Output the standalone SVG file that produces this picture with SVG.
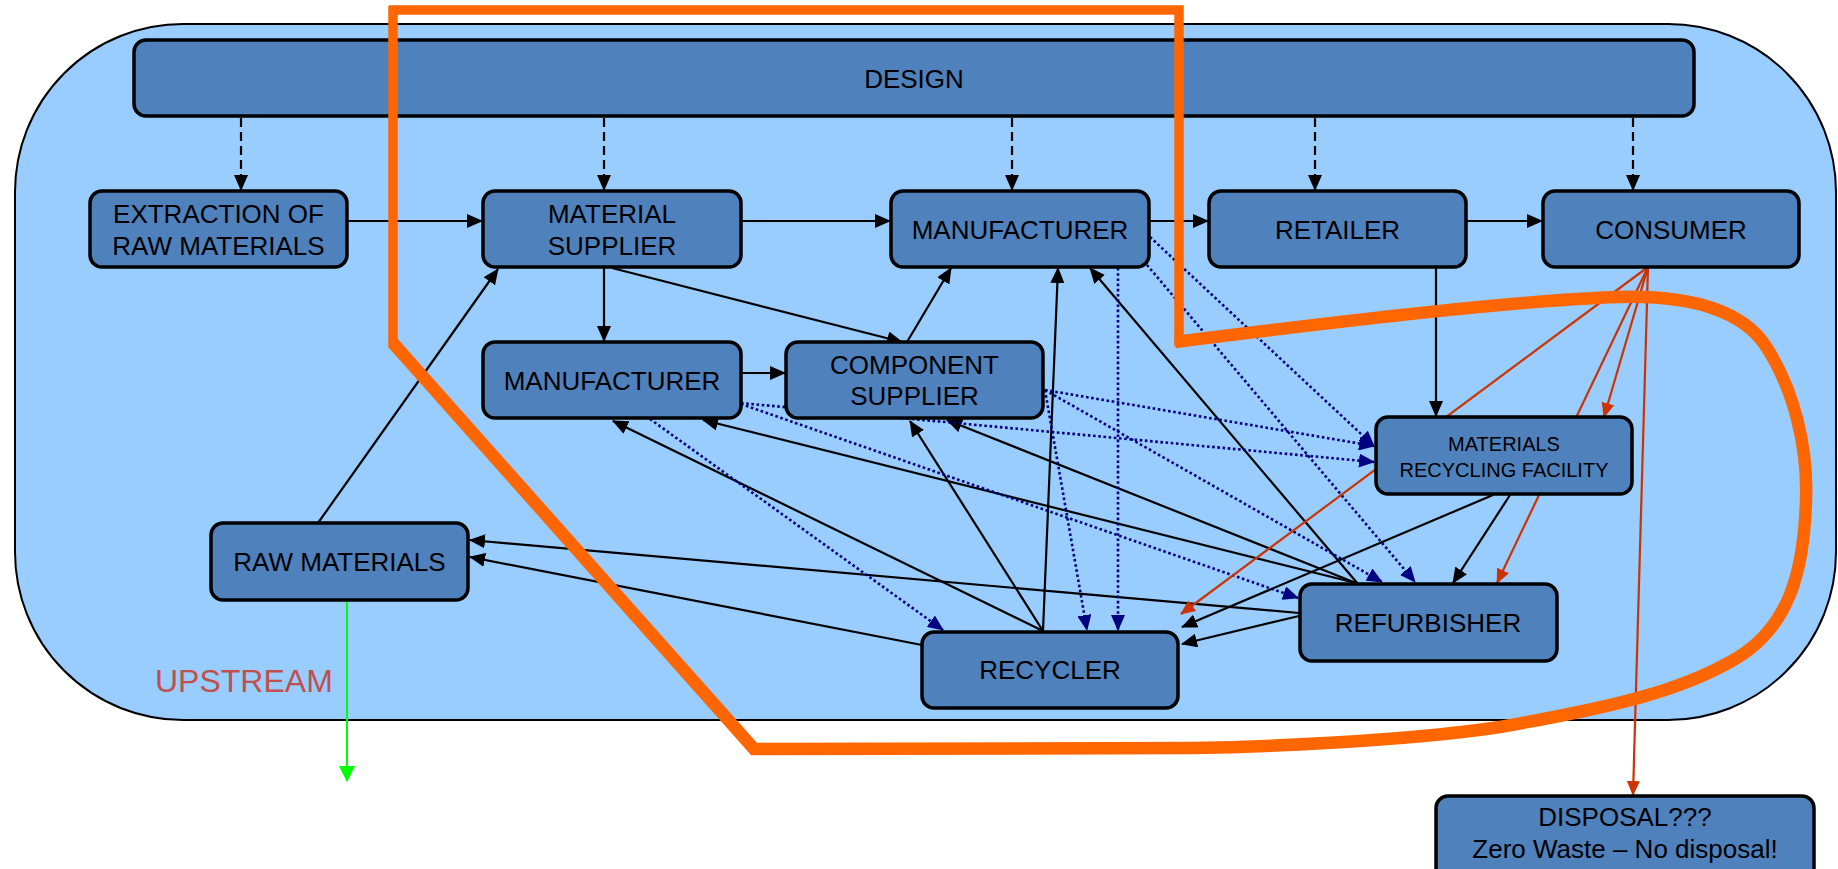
<svg xmlns="http://www.w3.org/2000/svg" width="1838" height="869" viewBox="0 0 1838 869">
<style>
.box{fill:#4F81BD;stroke:#000;stroke-width:3.5}
.t{font-family:"Liberation Sans",Arial,sans-serif;font-size:26px;fill:#000;text-anchor:middle}
.s{fill:none;stroke:#000;stroke-width:2.2}
.dash{fill:none;stroke:#000;stroke-width:2.2;stroke-dasharray:9 5}
.dot{fill:none;stroke:#000080;stroke-width:2.6;stroke-dasharray:2.6 2.6}
.red{fill:none;stroke:#CC3300;stroke-width:2.2}
.or{fill:none;stroke:#FF6600;stroke-linejoin:miter}
</style>
<defs>
<marker id="ab" markerUnits="userSpaceOnUse" markerWidth="16" markerHeight="14" refX="15" refY="7" orient="auto"><path d="M0,0 L16,7 L0,14 z" fill="#000"/></marker>
<marker id="au" markerUnits="userSpaceOnUse" markerWidth="16" markerHeight="14" refX="15" refY="7" orient="auto"><path d="M0,0 L16,7 L0,14 z" fill="#000080"/></marker>
<marker id="ar" markerUnits="userSpaceOnUse" markerWidth="15" markerHeight="13" refX="14" refY="6.5" orient="auto"><path d="M0,0 L15,6.5 L0,13 z" fill="#CC3300"/></marker>
<marker id="ag" markerUnits="userSpaceOnUse" markerWidth="16" markerHeight="16" refX="15" refY="8" orient="auto"><path d="M0,0 L16,8 L0,16 z" fill="#00FF00"/></marker>
</defs>
<rect x="0" y="0" width="1838" height="869" fill="#fff"/>
<rect id="background" x="15" y="24" width="1821" height="696" rx="168" ry="168" fill="#99CCFF" stroke="#000" stroke-width="2"/>
<g id="connectors">
<g marker-end="url(#ab)">
<line class="dash" x1="241" y1="118" x2="241" y2="190"/>
<line class="dash" x1="604" y1="118" x2="604" y2="190"/>
<line class="dash" x1="1012" y1="118" x2="1012" y2="190"/>
<line class="dash" x1="1315" y1="118" x2="1315" y2="190"/>
<line class="dash" x1="1633" y1="118" x2="1633" y2="190"/>
<line class="s" x1="347" y1="221" x2="482" y2="221"/>
<line class="s" x1="741" y1="221" x2="890" y2="221"/>
<line class="s" x1="1149" y1="221" x2="1208" y2="221"/>
<line class="s" x1="1466" y1="221" x2="1542" y2="221"/>
<line class="s" x1="604" y1="267" x2="604" y2="341"/>
<line class="s" x1="612" y1="268" x2="902" y2="342"/>
<line class="s" x1="741" y1="373" x2="785" y2="373"/>
<line class="s" x1="907" y1="342" x2="951" y2="268"/>
<line class="s" x1="318" y1="523" x2="498" y2="269"/>
<line class="s" x1="1043" y1="631" x2="1058" y2="268"/>
<line class="s" x1="1358" y1="584" x2="1090" y2="268"/>
<line class="s" x1="1356" y1="583" x2="947" y2="420"/>
<line class="s" x1="1356" y1="583" x2="703" y2="420"/>
<line class="s" x1="1043" y1="631" x2="613" y2="421"/>
<line class="s" x1="1043" y1="631" x2="910" y2="421"/>
<line class="s" x1="1299" y1="613" x2="470" y2="540"/>
<line class="s" x1="922" y1="645" x2="470" y2="557"/>
<line class="s" x1="1436" y1="267" x2="1436" y2="416"/>
<line class="s" x1="1510" y1="495" x2="1453" y2="583"/>
<line class="s" x1="1493" y1="495" x2="1182" y2="627"/>
<line class="s" x1="1299" y1="616" x2="1182" y2="644"/>
</g>
<g marker-end="url(#au)">
<line class="dot" x1="1118" y1="268" x2="1118" y2="630"/>
<line class="dot" x1="1150" y1="237" x2="1374" y2="446"/>
<line class="dot" x1="1147" y1="265" x2="1415" y2="582"/>
<line class="dot" x1="1045" y1="390" x2="1374" y2="446"/>
<line class="dot" x1="1045" y1="390" x2="1382" y2="582"/>
<line class="dot" x1="1045" y1="390" x2="1087" y2="630"/>
<line class="dot" x1="741" y1="403" x2="1374" y2="462"/>
<line class="dot" x1="741" y1="404" x2="1298" y2="598"/>
<line class="dot" x1="650" y1="419" x2="943" y2="630"/>
</g>
<g marker-end="url(#ar)">
<line class="red" x1="1648" y1="267" x2="1181" y2="614"/>
<line class="red" x1="1648" y1="267" x2="1497" y2="583"/>
<line class="red" x1="1648" y1="267" x2="1604" y2="417"/>
<line class="red" x1="1648" y1="267" x2="1633" y2="795"/>
</g>
<line x1="347" y1="600" x2="347" y2="781" stroke="#00FF00" stroke-width="2" marker-end="url(#ag)"/>
</g>
<g id="design"><rect class="box" x="134" y="40" width="1560" height="76" rx="12"/><text class="t" x="914" y="88">DESIGN</text></g>
<g id="extraction"><rect class="box" x="90" y="191" width="257" height="76" rx="12"/><text class="t" x="218.5" y="222.5">EXTRACTION OF</text><text class="t" x="218.5" y="255">RAW MATERIALS</text></g>
<g id="material-supplier"><rect class="box" x="483" y="191" width="258" height="76" rx="12"/><text class="t" x="612" y="222.5">MATERIAL</text><text class="t" x="612" y="255">SUPPLIER</text></g>
<g id="manufacturer-top"><rect class="box" x="891" y="191" width="258" height="76" rx="12"/><text class="t" x="1020" y="239">MANUFACTURER</text></g>
<g id="retailer"><rect class="box" x="1209" y="191" width="257" height="76" rx="12"/><text class="t" x="1337.5" y="239">RETAILER</text></g>
<g id="consumer"><rect class="box" x="1543" y="191" width="256" height="76" rx="12"/><text class="t" x="1671" y="239">CONSUMER</text></g>
<g id="manufacturer-low"><rect class="box" x="483" y="342" width="258" height="76" rx="12"/><text class="t" x="612" y="390">MANUFACTURER</text></g>
<g id="component-supplier"><rect class="box" x="786" y="342" width="257" height="76" rx="12"/><text class="t" x="914.5" y="374">COMPONENT</text><text class="t" x="914.5" y="405">SUPPLIER</text></g>
<g id="mrf"><rect class="box" x="1376" y="417" width="256" height="77" rx="12"/><text class="t" style="font-size:20px" x="1504" y="450.5">MATERIALS</text><text class="t" style="font-size:20px" x="1504" y="476.5">RECYCLING FACILITY</text></g>
<g id="raw-materials"><rect class="box" x="211" y="523" width="257" height="77" rx="12"/><text class="t" x="339.5" y="571">RAW MATERIALS</text></g>
<g id="refurbisher"><rect class="box" x="1300" y="584" width="257" height="77" rx="12"/><text class="t" x="1428" y="632">REFURBISHER</text></g>
<g id="recycler"><rect class="box" x="922" y="632" width="256" height="76" rx="12"/><text class="t" x="1050" y="679">RECYCLER</text></g>
<g id="disposal"><rect class="box" x="1436" y="796" width="378" height="90" rx="12"/><text class="t" x="1625" y="826">DISPOSAL???</text><text class="t" x="1625" y="858">Zero Waste – No disposal!</text></g>
<text id="upstream" x="155" y="692" style="font-family:'Liberation Sans',Arial,sans-serif;font-size:32px;fill:#C0504D">UPSTREAM</text>
<g id="boundary">
<path class="or" stroke-width="9.5" d="M1179,346 L1179,10 L389,10 M393,6 L393,347"/>
<path class="or" stroke-width="12.5" d="M393,343 L754,749 L1193,748 C1250,747 1400,742 1500,727 C1620,706 1680,690 1730,662 C1790,630 1804,570 1806,500 C1808,450 1795,390 1765,345 C1745,315 1700,295 1620,297 C1520,300 1350,320 1175,342"/>
</g>
</svg>
